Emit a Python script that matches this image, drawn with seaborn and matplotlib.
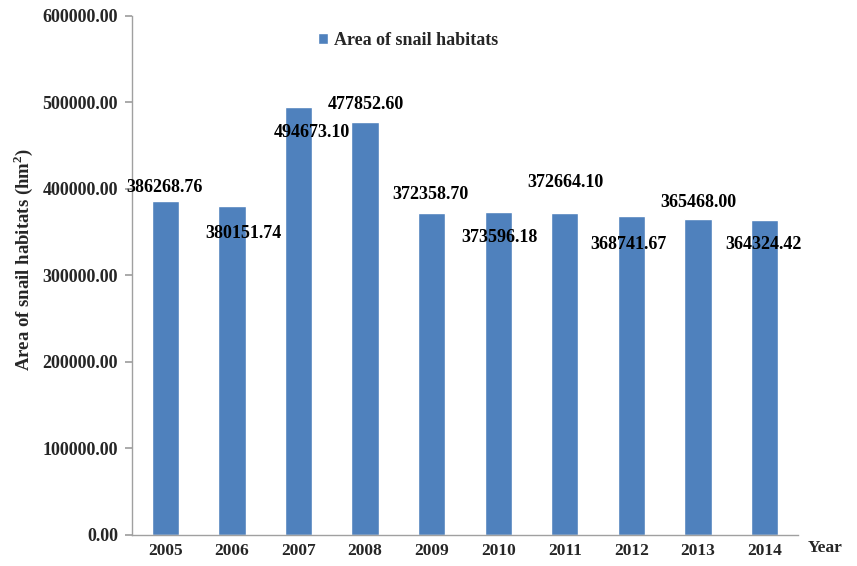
import matplotlib
matplotlib.use("Agg")
import matplotlib.pyplot as plt
import seaborn as sns
import pandas as pd
import numpy as np

years = ["2005", "2006", "2007", "2008", "2009", "2010", "2011", "2012", "2013", "2014"]
areas = [386268.76, 380151.74, 494673.10, 477852.60, 372358.70,
         373596.18, 372664.10, 368741.67, 365468.00, 364324.42]
yticks = [0, 100000, 200000, 300000, 400000, 500000, 600000]

# label offsets (pixels) relative to bar top center: styling only
lab_dx = [-1, 12, 13, 1, -1, 1, 1, -3, 0, -1]
lab_dy = [13, -27, -26, 17, 18, -26, 30, -29, 16, -25]

sns.set_theme(style="white")
plt.rcParams['font.family'] = ['Liberation Serif', 'DejaVu Serif']
plt.rcParams['font.weight'] = 'bold'
plt.rcParams['mathtext.fontset'] = 'custom'
plt.rcParams['mathtext.rm'] = 'Liberation Serif:bold'
plt.rcParams['mathtext.bf'] = 'Liberation Serif:bold'

df = pd.DataFrame({"Year": years, "Area": areas})

fig = plt.figure(figsize=(8.57, 5.66), dpi=100)
ax = fig.add_axes([0.154, 0.055, 0.777, 0.917])
color = "#4F81BD"
sns.barplot(data=df, x="Year", y="Area", color=color, width=0.41,
            saturation=1, ax=ax, label="Area of snail habitats")

ax.set_ylim(0, 600000)
ax.set_xlim(-0.5, 9.5)
ax.set_yticks(yticks)
ax.set_yticklabels([f"{v:.2f}" for v in yticks], fontsize=13, fontweight='bold')
ax.set_xticks(range(len(years)))
ax.set_xticklabels(years, fontsize=12.5, fontweight='bold')
ax.set_xticks(np.arange(-0.5, 10, 1), minor=True)
ax.tick_params(axis='x', which='major', length=0, pad=6)
ax.tick_params(axis='x', which='minor', length=5, color='#A0A0A0', direction='out')
ax.tick_params(axis='y', length=5, color='#A0A0A0', direction='out', left=True, pad=5)
for s in ['top', 'right']:
    ax.spines[s].set_visible(False)
for s in ['left', 'bottom']:
    ax.spines[s].set_color('#A0A0A0')
    ax.spines[s].set_linewidth(1.0)

ax.set_xlabel("")
ax.set_ylabel("Area of snail habitats (hm$^{\\mathrm{2}}$)", fontsize=13.5, fontweight='bold')
ax.yaxis.set_label_coords(-0.145, 0.53)
fig.text(825 / 857, 1 - 548 / 566, "Year", fontsize=12.5, fontweight='bold', ha='center', va='center')

for i, (v, dx, dy) in enumerate(zip(areas, lab_dx, lab_dy)):
    ax.annotate(f"{v:.2f}", xy=(i, v), xytext=(dx * 0.72, dy * 0.72),
                textcoords='offset points', ha='center', va='center',
                fontsize=13, fontweight='bold', color='black')

leg = ax.legend(loc='upper left', bbox_to_anchor=(0.255, 1.0), frameon=False,
                handlelength=0.55, handleheight=0.55, handletextpad=0.35,
                prop={'size': 13, 'weight': 'bold'})

fig.savefig("out.png", dpi=100)
